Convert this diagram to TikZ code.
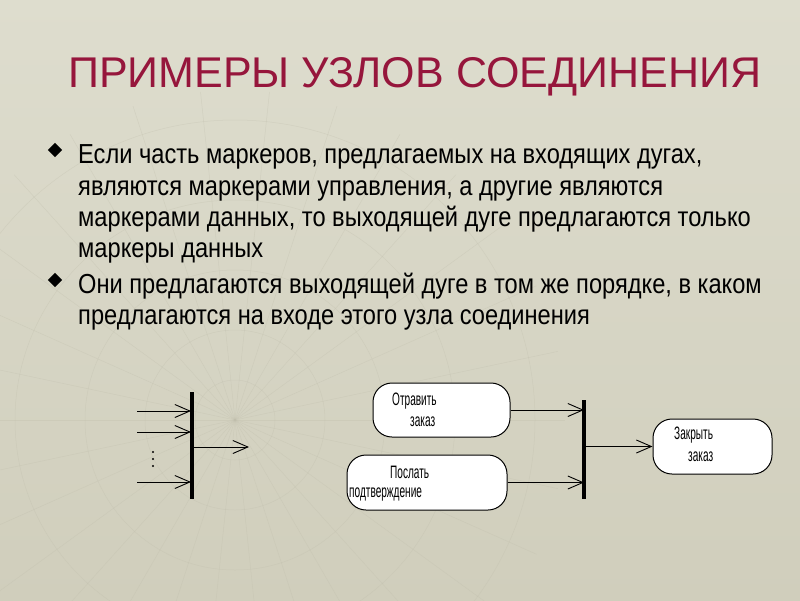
\documentclass[tikz,border=0pt]{standalone}
\usepackage{fontspec}
\setmainfont{Liberation Sans}
\newfontfamily\bodyfont[FakeStretch=0.86]{Liberation Sans}
\newfontfamily\boxfont[FakeStretch=0.56]{Liberation Sans}
\usetikzlibrary{arrows.meta,shapes.geometric}
\definecolor{bg}{RGB}{208,206,188}
\definecolor{bglight}{RGB}{222,221,206}
\definecolor{web}{RGB}{192,190,172}
\definecolor{titlered}{RGB}{150,22,60}
\tikzset{
  titletext/.style={font=\fontsize{43}{46}\selectfont, text=titlered, anchor=west, inner sep=0pt},
  bodyline/.style={font=\bodyfont\fontsize{27.5}{31}\selectfont, anchor=base west, inner sep=0pt},
  bulletmark/.style={diamond, fill=black, inner sep=0pt, minimum size=14.5pt},
  joinbar/.style={line width=3.2pt, line cap=butt},
  flow/.style={line width=0.9pt, -{Straight Barb[length=15pt,width=13pt,line width=0.9pt]}},
  action/.style={draw, fill=white, line width=1pt, rounded corners=19pt, inner sep=0pt},
  actext/.style={font=\boxfont\fontsize{18}{20}\selectfont, inner sep=0pt, anchor=west}
}
\begin{document}
\begin{tikzpicture}[x=1pt,y=-1pt]
\useasboundingbox (0,0) rectangle (800,600);
% background
\shade[top color=bglight, bottom color=bg] (0,0) rectangle (800,600);
% faint web texture
\begin{scope}[web, line width=0.5pt, opacity=0.35]
  \foreach \a in {0,12,...,348} {\draw (235,420) -- ++(\a:330);}
  \foreach \r in {40,90,150,220,300} {\draw (235,420) circle[radius=\r];}
\end{scope}
% title
\node[titletext] (title) at (68,77) {ПРИМЕРЫ УЗЛОВ СОЕДИНЕНИЯ};
% bullets
\node[bulletmark] (b1) at (55,150) {};
\node[bulletmark] (b2) at (55,280) {};
\node[bodyline] (l1) at (78,163) {Если часть маркеров, предлагаемых на входящих дугах,};
\node[bodyline] (l2) at (78,195) {являются маркерами управления, а другие являются};
\node[bodyline] (l3) at (78,226) {маркерами данных, то выходящей дуге предлагаются только};
\node[bodyline] (l4) at (78,257) {маркеры данных};
\node[bodyline] (l5) at (78,293) {Они предлагаются выходящей дуге в том же порядке, в каком};
\node[bodyline] (l6) at (78,324) {предлагаются на входе этого узла соединения};
% left join example
\coordinate (jt) at (192,392);
\coordinate (jb) at (192,499);
\draw[joinbar] (jt) -- (jb);
\coordinate (i1) at (137,411);
\coordinate (i2) at (137,432);
\coordinate (i3) at (137,482);
\coordinate (e1) at (191,411);
\coordinate (e2) at (191,432);
\coordinate (e3) at (191,482);
\draw[flow] (i1) -- (e1);
\draw[flow] (i2) -- (e2);
\draw[flow] (i3) -- (e3);
\coordinate (os) at (193,447);
\coordinate (oe) at (249,447);
\draw[flow] (os) -- (oe);
\foreach \y [count=\k] in {452,459,466} {\fill (153,\y) circle[radius=1.2pt];}
% right example
\node[action, minimum width=137pt, minimum height=54pt] (send) at (441.5,410) {};
\node[action, minimum width=160pt, minimum height=55pt] (conf) at (427,482.5) {};
\node[action, minimum width=119pt, minimum height=55pt] (close) at (712.5,446.5) {};
\node[actext] (t1) at (392,401) {Отравить};
\node[actext] (t2) at (410,422) {заказ};
\node[actext] (t3) at (390,472) {Послать};
\node[actext] (t4) at (349,495) {подтверждение};
\node[actext] (t5) at (674,435) {Закрыть};
\node[actext] (t6) at (688,457) {заказ};
\coordinate (jt2) at (584,400);
\coordinate (jb2) at (584,499);
\draw[joinbar] (jt2) -- (jb2);
\draw[flow] (send.east) -- (send.east -| jt2);
\draw[flow] (conf.east) -- (conf.east -| jt2);
\coordinate (jo2) at (584,446.5);
\draw[flow] (jo2) -- (close.west);
\end{tikzpicture}
\end{document}
